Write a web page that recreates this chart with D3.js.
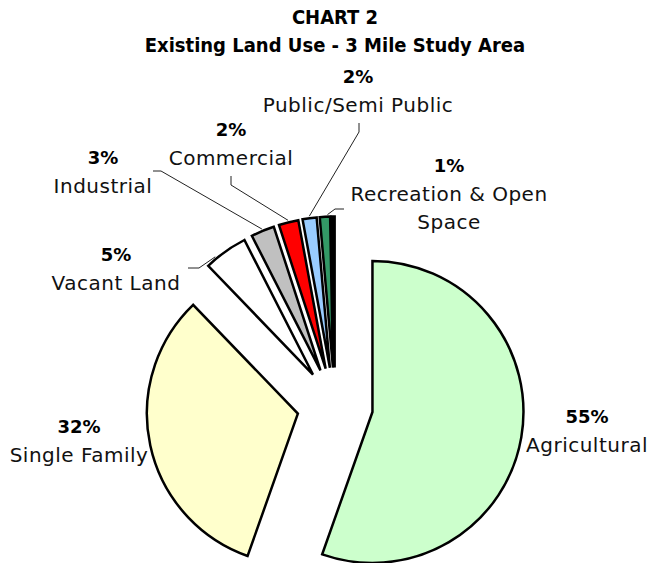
<!DOCTYPE html>
<html>
<head>
<meta charset="utf-8">
<script src="https://cdn.jsdelivr.net/npm/d3@7"></script>
<style>
  body { margin: 0; background: #fff; }
  svg { display: block; }
  .title { font-family: "Liberation Sans Narrow", "DejaVu Sans Condensed", "Liberation Sans", sans-serif; font-weight: bold; font-size: 20px; }
  .pct { font-family: "DejaVu Sans", sans-serif; font-weight: bold; font-size: 18px; }
  .name { font-family: "DejaVu Sans", sans-serif; font-size: 20px; letter-spacing: 0.5px; }
</style>
</head>
<body>
<svg width="656" height="563"></svg>
<script>
// data
var categories = ["Agricultural", "Single Family", "Vacant Land", "Industrial",
                  "Commercial", "Public/Semi Public", "Recreation & Open Space", "Other"];
var shares = [55.4, 32.4, 4.7, 2.5, 2.1, 1.5, 1.1, 0.3];
var colors = ["#ccffcc", "#ffffcc", "#ffffff", "#c0c0c0",
              "#ff0000", "#99ccff", "#339966", "#000000"];
var titleLines = ["CHART 2", "Existing Land Use - 3 Mile Study Area"];

// label layout (hand placed like the original)
var labelLayout = [
  { x: 587, y: 423, lines: ["Agricultural"] },
  { x: 79,  y: 433, lines: ["Single Family"] },
  { x: 116, y: 261, lines: ["Vacant Land"], lead: [[188, 268], [199, 268]], at: 0.25 },
  { x: 103, y: 164, lines: ["Industrial"], lead: [[153, 171], [161, 171]], at: 0.5 },
  { x: 231, y: 136, lines: ["Commercial"], lead: [[231, 176], [231, 185]], at: 0.5 },
  { x: 358, y: 83,  lines: ["Public/Semi Public"], lead: [[359, 123], [359, 132]], at: 0.5 },
  { x: 449, y: 172, lines: ["Recreation & Open", "Space"], lead: [[344, 209], [335, 209]], at: 0.75 },
  null
];

var cx = 335, cy = 405.5, radius = 151, explode = 38;

var svg = d3.select("svg");

svg.selectAll("text.title")
    .data(titleLines)
  .enter().append("text")
    .attr("class", "title")
    .attr("x", 335)
    .attr("y", function(d, i) { return 24 + i * 28; })
    .attr("text-anchor", "middle")
    .text(function(d) { return d; });

var pie = d3.pie().sort(null).value(function(d) { return d; });
var arc = d3.arc().innerRadius(0).outerRadius(radius);
var arcs = pie(shares);

function shift(a) {
  var m = (a.startAngle + a.endAngle) / 2;
  return [Math.sin(m) * explode, -Math.cos(m) * explode];
}

var g = svg.append("g").attr("transform", "translate(" + cx + "," + cy + ")");

g.selectAll("path.slice")
    .data(arcs)
  .enter().append("path")
    .attr("class", "slice")
    .attr("transform", function(d) { return "translate(" + shift(d) + ")"; })
    .attr("d", arc)
    .attr("fill", function(d, i) { return colors[i]; })
    .attr("stroke", "#000")
    .attr("stroke-width", 2.5)
    .attr("stroke-linejoin", "miter");

// leader lines
arcs.forEach(function(a, i) {
  var L = labelLayout[i];
  if (!L || !L.lead) return;
  var o = shift(a),
      ang = a.startAngle + L.at * (a.endAngle - a.startAngle),
      end = [cx + o[0] + Math.sin(ang) * (radius + 2), cy + o[1] - Math.cos(ang) * (radius + 2)];
  svg.append("path")
      .attr("d", d3.line()(L.lead.concat([end])))
      .attr("fill", "none")
      .attr("stroke", "#222")
      .attr("stroke-width", 1);
});

// labels
arcs.forEach(function(a, i) {
  var L = labelLayout[i];
  if (!L) return;
  svg.append("text")
      .attr("class", "pct")
      .attr("x", L.x).attr("y", L.y)
      .attr("text-anchor", "middle")
      .text(Math.round(shares[i]) + "%");
  L.lines.forEach(function(t, j) {
    svg.append("text")
        .attr("class", "name")
        .attr("x", L.x).attr("y", L.y + 29 + j * 28)
        .attr("text-anchor", "middle")
        .attr("fill", "#111")
        .text(t);
  });
});
</script>
</body>
</html>
